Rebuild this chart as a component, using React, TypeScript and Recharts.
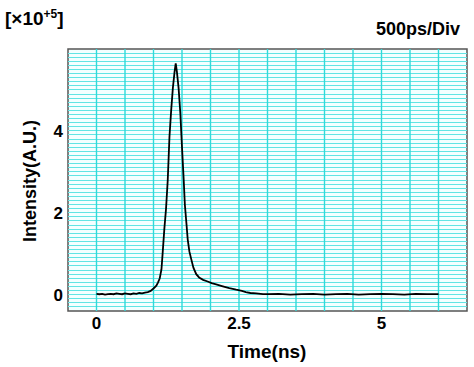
import React from 'react'
import {
  LineChart,
  Line,
  XAxis,
  YAxis,
  CartesianGrid,
  ReferenceArea,
  ReferenceLine
} from 'recharts'

// time in ns
const times = [
  0.0, 0.05, 0.1, 0.15, 0.2, 0.25, 0.3, 0.35, 0.4, 0.45, 0.5, 0.55, 0.6, 0.65,
  0.7, 0.75, 0.8, 0.85, 0.9, 0.95, 1.0, 1.05, 1.08, 1.11, 1.14, 1.16, 1.19,
  1.22, 1.25, 1.28, 1.31, 1.34, 1.37, 1.39, 1.41, 1.44, 1.47, 1.5, 1.53, 1.55,
  1.58, 1.6, 1.63, 1.66, 1.7, 1.75, 1.8, 1.87, 1.95, 2.02, 2.1, 2.2, 2.33,
  2.45, 2.55, 2.62, 2.7, 2.8, 2.92, 3.0, 3.2, 3.4, 3.6, 3.8, 4.0, 4.2, 4.4,
  4.6, 4.8, 5.0, 5.2, 5.4, 5.6, 5.8, 6.0
]

// intensity in units of 1e5
const intensity = [
  0.02, 0.01, 0.02, 0.0, 0.01, 0.02, 0.01, 0.03, 0.02, 0.01, 0.03, 0.02, 0.01,
  0.03, 0.02, 0.04, 0.03, 0.05, 0.06, 0.09, 0.15, 0.22, 0.3, 0.4, 0.62, 1.0,
  1.6, 2.1, 2.8, 3.85, 4.5, 5.05, 5.45, 5.65, 5.45, 5.05, 4.45, 3.6, 2.8, 2.2,
  1.7, 1.35, 1.05, 0.88, 0.66, 0.5, 0.42, 0.36, 0.32, 0.28, 0.25, 0.21, 0.16,
  0.12, 0.09, 0.06, 0.04, 0.03, 0.01, 0.01, 0.02, 0.0, 0.01, 0.02, 0.0, 0.01,
  0.02, 0.0, 0.01, 0.02, 0.01, 0.0, 0.02, 0.01, 0.01
]

const xTicks = [0, 2.5, 5]
const yTicks = [0, 2, 4]

const data = times.map((t, i) => ({ t, v: intensity[i] }))

// 500ps per division, 0.1 per minor horizontal line
const vGrid = Array.from({ length: 13 }, (_, i) => i * 0.5)
const hGrid = Array.from({ length: 63 }, (_, i) => Math.round((i - 3) * 10) / 100)

const font = '"Liberation Sans", Arial, sans-serif'

export default function App() {
  return (
    <div style={{ position: 'absolute', left: 0, top: 0, width: 474, height: 367, background: '#fff', fontFamily: font }}>
      <LineChart
        width={474}
        height={367}
        data={data}
        margin={{ top: 49, right: 7, bottom: 0, left: 0 }}
      >
        <CartesianGrid
          horizontal={false}
          vertical={false}
          fill="#f4ffff"
        />
        {hGrid.map((y) => (
          <ReferenceLine
            key={'h' + y}
            y={y}
            stroke="#62e4e4"
            strokeWidth={1}
            shapeRendering="crispEdges"
          />
        ))}
        {vGrid.map((x) => (
          <ReferenceLine
            key={'v' + x}
            x={x}
            stroke="#2fdada"
            strokeWidth={1.4}
          />
        ))}
        <XAxis
          dataKey="t"
          type="number"
          domain={[-0.5, 6.5]}
          ticks={xTicks}
          height={56}
          tickSize={0}
          tickMargin={6}
          axisLine={false}
          tick={{ fill: '#000', fontSize: 17, fontWeight: 'bold', fontFamily: font }}
        />
        <YAxis
          type="number"
          domain={[-0.4, 6]}
          ticks={yTicks}
          width={68}
          tickSize={0}
          tickMargin={5}
          axisLine={false}
          tick={{ fill: '#000', fontSize: 17, fontWeight: 'bold', fontFamily: font }}
        />
        <ReferenceArea
          x1={-0.5}
          x2={6.5}
          y1={-0.4}
          y2={6}
          fill="none"
          stroke="#555"
          strokeWidth={1.5}
          ifOverflow="visible"
        />
        <Line
          type="linear"
          dataKey="v"
          stroke="#000"
          strokeWidth={1.8}
          dot={false}
          isAnimationActive={false}
        />
      </LineChart>
      <div style={{ position: 'absolute', left: 5, top: 7, fontSize: 19, fontWeight: 'bold', color: '#000' }}>
        [×10<sup style={{ fontSize: 12 }}>+5</sup>]
      </div>
      <div style={{ position: 'absolute', right: 14, top: 19, fontSize: 18, fontWeight: 'bold', color: '#000' }}>
        500ps/Div
      </div>
      <div
        style={{
          position: 'absolute',
          left: 30,
          top: 181,
          transform: 'translate(-50%, -50%) rotate(-90deg)',
          whiteSpace: 'nowrap',
          fontSize: 18,
          fontWeight: 'bold',
          color: '#000'
        }}
      >
        Intensity(A.U.)
      </div>
      <div
        style={{
          position: 'absolute',
          left: 267,
          top: 352,
          transform: 'translate(-50%, -50%)',
          whiteSpace: 'nowrap',
          fontSize: 19,
          fontWeight: 'bold',
          color: '#000'
        }}
      >
        Time(ns)
      </div>
    </div>
  )
}
